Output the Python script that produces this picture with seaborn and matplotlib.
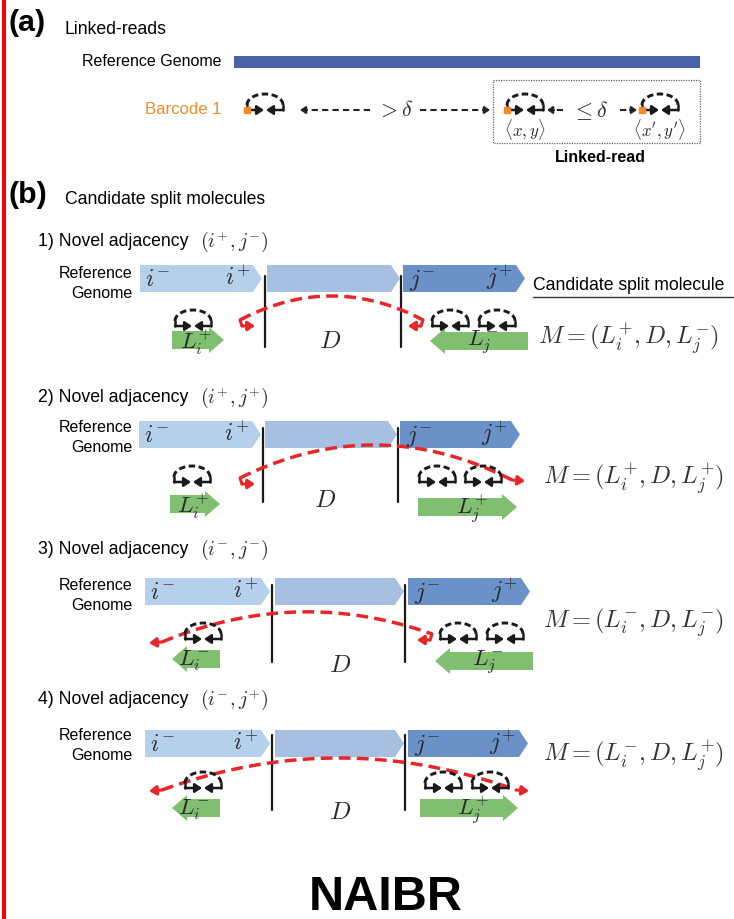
import numpy as np
import matplotlib
matplotlib.use("Agg")
import matplotlib.pyplot as plt
import seaborn as sns
from matplotlib.patches import Polygon, Rectangle
from matplotlib import font_manager

sns.set_theme(style="white")
_names = {f.name for f in font_manager.fontManager.ttflist}
NARROW = "Liberation Sans Narrow" in _names
SANS = "Liberation Sans Narrow" if NARROW else "Liberation Sans"
K = 1.0 if NARROW else 0.84
plt.rcParams["font.family"] = [SANS, "DejaVu Sans"]
plt.rcParams["mathtext.fontset"] = "cm"
plt.rcParams["text.color"] = "black"

# ---------------- content ----------------
panel_labels = ["(a)", "(b)"]
section_titles = ["Linked-reads", "Candidate split molecules"]
adjacency_titles = ["1) Novel adjacency", "2) Novel adjacency",
                    "3) Novel adjacency", "4) Novel adjacency"]
i_orient = ["+", "+", "-", "-"]
j_orient = ["-", "+", "-", "+"]
breakend_labels = ["i^{-}", "i^{+}", "j^{-}", "j^{+}"]
footer = "NAIBR"

# ---------------- layout (pixels) ----------------
panels = [
    dict(ty=242, bt=265, bars=[(140, 262), (267, 400), (403, 525)], lines=(265, 401), ly=(276, 347),
         arcL=(240, 320), arcR=(423, 320), apex=296, gL=(172, 224, 340), gR=(528, 430, 341),
         glL=[193], glR=[450, 497], gly=326, D=(330, 341), M=(538, 338), ref_y=(273, 293)),
    dict(ty=398, bt=421, bars=[(139, 261), (265, 397), (400, 520)], lines=(263, 398), ly=(428, 502),
         arcL=(240, 478), arcR=(512, 480), apex=445, gL=(170, 220, 504), gR=(418, 517, 507),
         glL=[192], glR=[437, 483], gly=482, D=(325, 500), M=(543, 478), ref_y=(428, 448)),
    dict(ty=550, bt=578, bars=[(145, 270), (275, 404), (408, 530)], lines=(272, 405), ly=(585, 662),
         arcL=(162, 642), arcR=(432, 634), apex=612, gL=(220, 172, 659), gR=(533, 435, 661),
         glL=[203], glR=[458, 505], gly=639, D=(340, 665), M=(543, 622), ref_y=(585, 605)),
    dict(ty=700, bt=730, bars=[(145, 270), (275, 404), (408, 528)], lines=(272, 405), ly=(735, 810),
         arcL=(162, 790), arcR=(516, 790), apex=758, gL=(220, 172, 808), gR=(420, 518, 808),
         glL=[203], glR=[443, 490], gly=788, D=(340, 812), M=(543, 755), ref_y=(735, 755)),
]

BAR_COLS = ["#b5d0eb", "#a7bfe1", "#6a92c9"]
GREEN = "#80bf70"
RED = "#e8262a"
ORANGE = "#f28a2a"
GENOME_BLUE = "#4a62a8"
MATH = "#2a2a2a"

fig = plt.figure(figsize=(7.34, 9.19), dpi=100)
ax = fig.add_axes([0, 0, 1, 1])
ax.set_xlim(0, 734)
ax.set_ylim(919, 0)
ax.axis("off")


def fs(px):
    return px * 0.72


def arrow(p0, p1, color="k", lw=1.6, ms=9):
    ax.annotate("", xy=p1, xytext=p0,
                arrowprops=dict(arrowstyle="-|>,head_length=0.45,head_width=0.3", color=color,
                                lw=lw, shrinkA=0, shrinkB=0, mutation_scale=ms))


def dashed_arrow(x0, x1, y, color="#222222", lw=1.5):
    d = np.sign(x1 - x0)
    ax.plot([x0, x1 - d * 6], [y, y], color=color, lw=lw, ls=(0, (3, 2)))
    arrow((x1 - d * 7, y), (x1, y), color=color, lw=lw, ms=7)


def glyph(cx, cy, w=36, h=11, orange=False):
    x0, x1 = cx - w / 2, cx + w / 2
    t = np.linspace(np.pi, 0, 50)
    ax.plot(cx + (w / 2) * np.cos(t), (cy - 5) - h * np.sin(t), color="k", lw=2.1,
            ls=(0, (2.2, 1.2)), solid_capstyle="butt")
    ax.plot([x0, x0], [cy - 5, cy], color="k", lw=1.8)
    ax.plot([x1, x1], [cy - 5, cy], color="k", lw=1.8)
    arrow((x0, cy), (cx - 1, cy), lw=1.8)
    arrow((x1, cy), (cx + 1, cy), lw=1.8)
    if orange:
        ax.add_patch(Rectangle((x0 - 3, cy - 3), 6, 6, color=ORANGE, zorder=5))


def genome_bar(x0, x1, top, h, color, tip=9):
    pts = [(x0, top), (x1 - tip, top), (x1, top + h / 2), (x1 - tip, top + h), (x0, top + h)]
    ax.add_patch(Polygon(pts, closed=True, facecolor=color, edgecolor="none"))


def block_arrow(xt, xh, yc, color=GREEN, hl=15, bh=9, hh=13):
    d = np.sign(xh - xt)
    xb = xh - d * hl
    pts = [(xt, yc - bh), (xb, yc - bh), (xb, yc - hh), (xh, yc), (xb, yc + hh), (xb, yc + bh), (xt, yc + bh)]
    ax.add_patch(Polygon(pts, closed=True, facecolor=color, edgecolor="none"))


def red_arc(L, R, apex, left_dir, right_dir):
    (xl, yl), (xr, yr) = L, R
    cxp = (xl + xr) / 2
    cyp = 2 * apex - (yl + yr) / 2
    t = np.linspace(0, 1, 80)
    bx = (1 - t) ** 2 * xl + 2 * (1 - t) * t * cxp + t ** 2 * xr
    by = (1 - t) ** 2 * yl + 2 * (1 - t) * t * cyp + t ** 2 * yr
    ax.plot(bx, by, color=RED, lw=2.5, ls=(0, (3.4, 1.8)))
    if left_dir > 0:
        ax.plot([xl, xl + 2], [yl, yl + 6], color=RED, lw=2.2)
        arrow((xl + 2, yl + 6), (xl + 15, yl + 6), color=RED, lw=2.2, ms=9)
    else:
        arrow((xl, yl), (xl - 13, yl + 1), color=RED, lw=2.2, ms=9)
    if right_dir < 0:
        ax.plot([xr, xr - 2], [yr, yr + 6], color=RED, lw=2.2)
        arrow((xr - 2, yr + 6), (xr - 15, yr + 6), color=RED, lw=2.2, ms=9)
    else:
        arrow((xr, yr), (xr + 13, yr + 1), color=RED, lw=2.2, ms=9)


# left red rule
ax.add_patch(Rectangle((2, 0), 4, 919, color="#ff0000", lw=0))

# ---------------- panel (a) ----------------
ax.text(8, 23, panel_labels[0], fontsize=fs(36) * K, fontweight="bold", va="center", ha="left")
ax.text(65, 30, section_titles[0], fontsize=fs(21) * K, va="center", ha="left")
ax.text(222, 62, "Reference Genome", fontsize=fs(19) * K, va="center", ha="right")
ax.add_patch(Rectangle((234, 56), 466, 12, color=GENOME_BLUE, lw=0))
ax.text(222, 110, "Barcode 1", fontsize=fs(20) * K, va="center", ha="right", color=ORANGE)
glyph(265, 110, orange=True)
dashed_arrow(370, 300, 110)
ax.text(395, 110, r"$>\delta$", fontsize=fs(22), va="center", ha="center", color=MATH)
dashed_arrow(420, 490, 110)
ax.add_patch(Rectangle((493, 80), 207, 63, fill=False, edgecolor="#666666", lw=0.9, ls=(0, (1, 1))))
glyph(525, 110, orange=True)
glyph(660, 110, orange=True)
dashed_arrow(563, 547, 110)
ax.text(590, 110, r"$\leq\delta$", fontsize=fs(22), va="center", ha="center", color=MATH)
dashed_arrow(620, 637, 110)
ax.text(525, 130, r"$\langle x, y\rangle$", fontsize=fs(17), va="center", ha="center", color=MATH)
ax.text(660, 130, r"$\langle x', y'\rangle$", fontsize=fs(17), va="center", ha="center", color=MATH)
ax.text(600, 158, "Linked-read", fontsize=fs(19) * K, fontweight="bold", va="center", ha="center")

# ---------------- panel (b) ----------------
ax.text(8, 195, panel_labels[1], fontsize=fs(36) * K, fontweight="bold", va="center", ha="left")
ax.text(65, 199, section_titles[1], fontsize=fs(21) * K, va="center", ha="left")

for k, p in enumerate(panels):
    io, jo = i_orient[k], j_orient[k]
    ax.text(38, p["ty"], adjacency_titles[k], fontsize=fs(21) * K, va="center", ha="left")
    ax.text(200, p["ty"], rf"$(i^{{{io}}}, j^{{{jo}}})$", fontsize=fs(20), va="center", ha="left",
            color=MATH)
    ax.text(133, p["ref_y"][0], "Reference", fontsize=fs(19) * K, va="center", ha="right")
    ax.text(133, p["ref_y"][1], "Genome", fontsize=fs(19) * K, va="center", ha="right")
    bh = 27
    for (x0, x1), col in zip(p["bars"], BAR_COLS):
        genome_bar(x0, x1, p["bt"], bh, col)
    b1, _, b3 = p["bars"]
    ax.text(b1[0] + 5, p["bt"] + 15, rf"${breakend_labels[0]}$", fontsize=fs(24), va="center", ha="left",
            color=MATH)
    ax.text(b1[1] - 12, p["bt"] + 13, rf"${breakend_labels[1]}$", fontsize=fs(24), va="center", ha="right",
            color=MATH)
    ax.text(b3[0] + 6, p["bt"] + 15, rf"${breakend_labels[2]}$", fontsize=fs(24), va="center", ha="left",
            color=MATH)
    ax.text(b3[1] - 12, p["bt"] + 13, rf"${breakend_labels[3]}$", fontsize=fs(24), va="center", ha="right",
            color=MATH)
    for lx in p["lines"]:
        ax.plot([lx, lx], list(p["ly"]), color="k", lw=1.6)
    red_arc(p["arcL"], p["arcR"], p["apex"], 1 if io == "+" else -1, -1 if jo == "-" else 1)
    for gx in p["glL"] + p["glR"]:
        glyph(gx, p["gly"])
    xt, xh, yc = p["gL"]
    block_arrow(xt, xh, yc)
    ax.text((xt + xh) / 2 - 2, yc + 2, rf"$L_i^{{{io}}}$", fontsize=fs(23), va="center", ha="center",
            color=MATH)
    xt, xh, yc = p["gR"]
    block_arrow(xt, xh, yc)
    ax.text((xt + xh) / 2 + 4, yc + 2, rf"$L_j^{{{jo}}}$", fontsize=fs(23), va="center", ha="center",
            color=MATH)
    ax.text(p["D"][0], p["D"][1], r"$D$", fontsize=fs(25), va="center", ha="center", color=MATH)
    ax.text(p["M"][0], p["M"][1], rf"$M = (L_i^{{{io}}}, D, L_j^{{{jo}}})$", fontsize=fs(24.5),
            va="center", ha="left", color="#333333")

ax.text(533, 286, "Candidate split molecule", fontsize=fs(21) * K, va="center", ha="left")
ax.plot([533, 733], [297, 297], color="#333333", lw=1.0)

ax.text(386, 897, footer, fontsize=35, fontweight="bold", va="center", ha="center",
        color="black", family=["Liberation Sans", "DejaVu Sans"])

fig.savefig("out.png", dpi=100)
